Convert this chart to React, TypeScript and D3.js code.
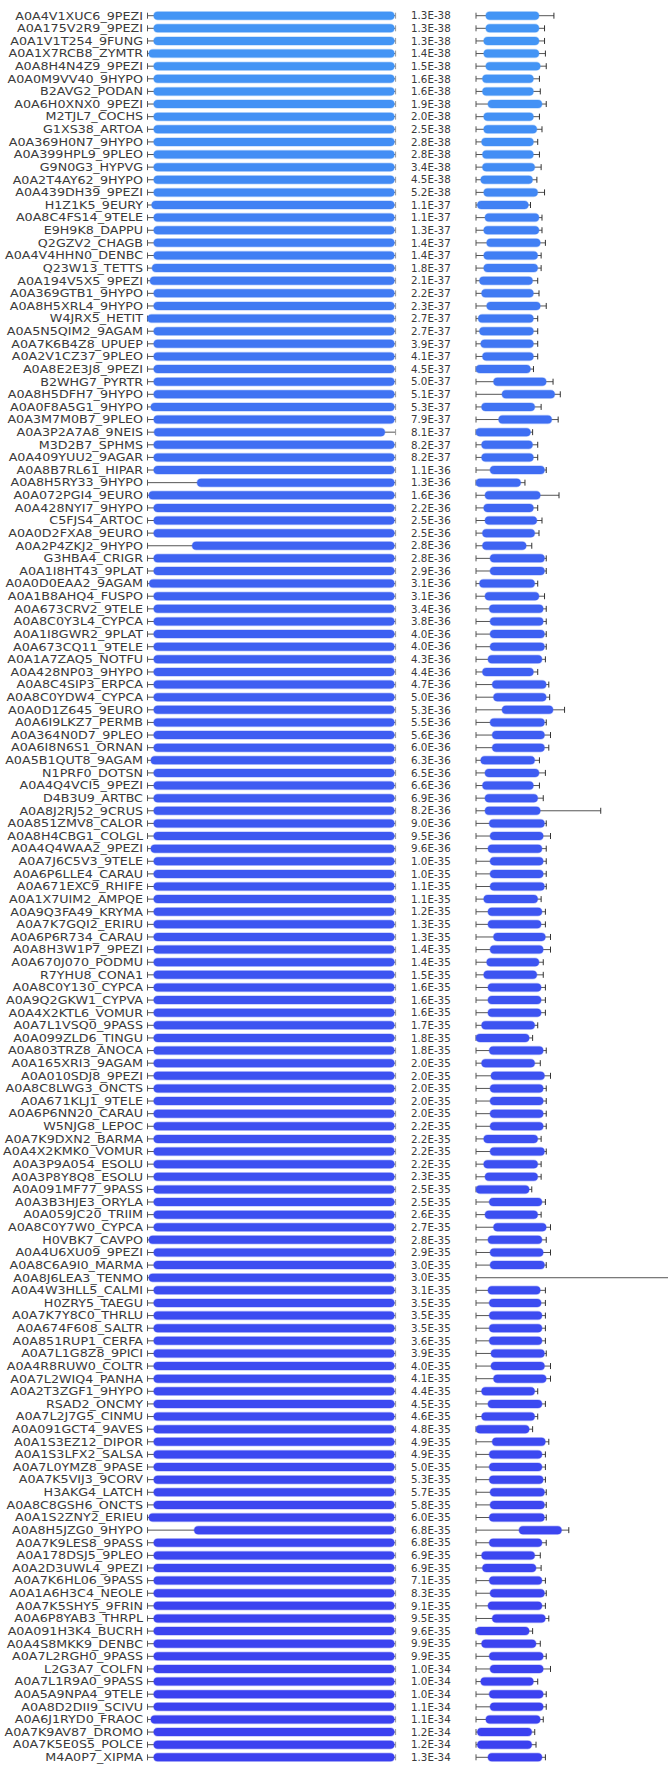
import React, { useRef, useEffect } from 'react';
import * as d3 from 'd3';

// hit names, top to bottom
const labels = [
  'A0A4V1XUC6_9PEZI', 'A0A175V2R9_9PEZI', 'A0A1V1T254_9FUNG', 'A0A1X7RCB8_ZYMTR', 'A0A8H4N4Z9_9PEZI',
  'A0A0M9VV40_9HYPO', 'B2AVG2_PODAN', 'A0A6H0XNX0_9PEZI', 'M2TJL7_COCHS', 'G1XS38_ARTOA',
  'A0A369H0N7_9HYPO', 'A0A399HPL9_9PLEO', 'G9N0G3_HYPVG', 'A0A2T4AY62_9HYPO', 'A0A439DH39_9PEZI',
  'H1Z1K5_9EURY', 'A0A8C4FS14_9TELE', 'E9H9K8_DAPPU', 'Q2GZV2_CHAGB', 'A0A4V4HHN0_DENBC',
  'Q23W13_TETTS', 'A0A194V5X5_9PEZI', 'A0A369GTB1_9HYPO', 'A0A8H5XRL4_9HYPO', 'W4JRX5_HETIT',
  'A0A5N5QIM2_9AGAM', 'A0A7K6B4Z8_UPUEP', 'A0A2V1CZ37_9PLEO', 'A0A8E2E3J8_9PEZI', 'B2WHG7_PYRTR',
  'A0A8H5DFH7_9HYPO', 'A0A0F8A5G1_9HYPO', 'A0A3M7M0B7_9PLEO', 'A0A3P2A7A8_9NEIS', 'M3D2B7_SPHMS',
  'A0A409YUU2_9AGAR', 'A0A8B7RL61_HIPAR', 'A0A8H5RY33_9HYPO', 'A0A072PGI4_9EURO', 'A0A428NYI7_9HYPO',
  'C5FJS4_ARTOC', 'A0A0D2FXA8_9EURO', 'A0A2P4ZKJ2_9HYPO', 'G3HBA4_CRIGR', 'A0A1I8HT43_9PLAT',
  'A0A0D0EAA2_9AGAM', 'A0A1B8AHQ4_FUSPO', 'A0A673CRV2_9TELE', 'A0A8C0Y3L4_CYPCA', 'A0A1I8GWR2_9PLAT',
  'A0A673CQ11_9TELE', 'A0A1A7ZAQ5_NOTFU', 'A0A428NP03_9HYPO', 'A0A8C4SIP3_ERPCA', 'A0A8C0YDW4_CYPCA',
  'A0A0D1Z645_9EURO', 'A0A6I9LKZ7_PERMB', 'A0A364N0D7_9PLEO', 'A0A6I8N6S1_ORNAN', 'A0A5B1QUT8_9AGAM',
  'N1PRF0_DOTSN', 'A0A4Q4VCI5_9PEZI', 'D4B3U9_ARTBC', 'A0A8J2RJ52_9CRUS', 'A0A851ZMV8_CALOR',
  'A0A8H4CBG1_COLGL', 'A0A4Q4WAA2_9PEZI', 'A0A7J6C5V3_9TELE', 'A0A6P6LLE4_CARAU', 'A0A671EXC9_RHIFE',
  'A0A1X7UIM2_AMPQE', 'A0A9Q3FA49_KRYMA', 'A0A7K7GQI2_ERIRU', 'A0A6P6R734_CARAU', 'A0A8H3W1P7_9PEZI',
  'A0A670J070_PODMU', 'R7YHU8_CONA1', 'A0A8C0Y130_CYPCA', 'A0A9Q2GKW1_CYPVA', 'A0A4X2KTL6_VOMUR',
  'A0A7L1VSQ0_9PASS', 'A0A099ZLD6_TINGU', 'A0A803TRZ8_ANOCA', 'A0A165XRI3_9AGAM', 'A0A010SDJ8_9PEZI',
  'A0A8C8LWG3_ONCTS', 'A0A671KLJ1_9TELE', 'A0A6P6NN20_CARAU', 'W5NJG8_LEPOC', 'A0A7K9DXN2_BARMA',
  'A0A4X2KMK0_VOMUR', 'A0A3P9A054_ESOLU', 'A0A3P8Y8Q8_ESOLU', 'A0A091MF77_9PASS', 'A0A3B3HJE3_ORYLA',
  'A0A059JC20_TRIIM', 'A0A8C0Y7W0_CYPCA', 'H0VBK7_CAVPO', 'A0A4U6XU09_9PEZI', 'A0A8C6A9I0_MARMA',
  'A0A8J6LEA3_TENMO', 'A0A4W3HLL5_CALMI', 'H0ZRY5_TAEGU', 'A0A7K7Y8C0_THRLU', 'A0A674F608_SALTR',
  'A0A851RUP1_CERFA', 'A0A7L1G8Z8_9PICI', 'A0A4R8RUW0_COLTR', 'A0A7L2WIQ4_PANHA', 'A0A2T3ZGF1_9HYPO',
  'RSAD2_ONCMY', 'A0A7L2J7G5_CINMU', 'A0A091GCT4_9AVES', 'A0A1S3EZ12_DIPOR', 'A0A1S3LFX2_SALSA',
  'A0A7L0YMZ8_9PASE', 'A0A7K5VIJ3_9CORV', 'H3AKG4_LATCH', 'A0A8C8GSH6_ONCTS', 'A0A1S2ZNY2_ERIEU',
  'A0A8H5JZG0_9HYPO', 'A0A7K9LES8_9PASS', 'A0A178DSJ5_9PLEO', 'A0A2D3UWL4_9PEZI', 'A0A7K6HL06_9PASS',
  'A0A1A6H3C4_NEOLE', 'A0A7K5SHY5_9FRIN', 'A0A6P8YAB3_THRPL', 'A0A091H3K4_BUCRH', 'A0A4S8MKK9_DENBC',
  'A0A7L2RGH0_9PASS', 'L2G3A7_COLFN', 'A0A7L1R9A0_9PASS', 'A0A5A9NPA4_9TELE', 'A0A8D2DII9_SCIVU',
  'A0A6J1RYD0_FRAOC', 'A0A7K9AV87_DROMO', 'A0A7K5E0S5_POLCE', 'M4A0P7_XIPMA',
];

const evalues = [
  '1.3E-38', '1.3E-38', '1.3E-38', '1.4E-38', '1.5E-38', '1.6E-38', '1.6E-38', '1.9E-38', '2.0E-38', '2.5E-38',
  '2.8E-38', '2.8E-38', '3.4E-38', '4.5E-38', '5.2E-38', '1.1E-37', '1.1E-37', '1.3E-37', '1.4E-37', '1.4E-37',
  '1.8E-37', '2.1E-37', '2.2E-37', '2.3E-37', '2.7E-37', '2.7E-37', '3.9E-37', '4.1E-37', '4.5E-37', '5.0E-37',
  '5.1E-37', '5.3E-37', '7.9E-37', '8.1E-37', '8.2E-37', '8.2E-37', '1.1E-36', '1.3E-36', '1.6E-36', '2.2E-36',
  '2.5E-36', '2.5E-36', '2.8E-36', '2.8E-36', '2.9E-36', '3.1E-36', '3.1E-36', '3.4E-36', '3.8E-36', '4.0E-36',
  '4.0E-36', '4.3E-36', '4.4E-36', '4.7E-36', '5.0E-36', '5.3E-36', '5.5E-36', '5.6E-36', '6.0E-36', '6.3E-36',
  '6.5E-36', '6.6E-36', '6.9E-36', '8.2E-36', '9.0E-36', '9.5E-36', '9.6E-36', '1.0E-35', '1.0E-35', '1.1E-35',
  '1.1E-35', '1.2E-35', '1.3E-35', '1.3E-35', '1.4E-35', '1.4E-35', '1.5E-35', '1.6E-35', '1.6E-35', '1.6E-35',
  '1.7E-35', '1.8E-35', '1.8E-35', '2.0E-35', '2.0E-35', '2.0E-35', '2.0E-35', '2.0E-35', '2.2E-35', '2.2E-35',
  '2.2E-35', '2.2E-35', '2.3E-35', '2.5E-35', '2.5E-35', '2.6E-35', '2.7E-35', '2.8E-35', '2.9E-35', '3.0E-35',
  '3.0E-35', '3.1E-35', '3.5E-35', '3.5E-35', '3.5E-35', '3.6E-35', '3.9E-35', '4.0E-35', '4.1E-35', '4.4E-35',
  '4.5E-35', '4.6E-35', '4.8E-35', '4.9E-35', '4.9E-35', '5.0E-35', '5.3E-35', '5.7E-35', '5.8E-35', '6.0E-35',
  '6.8E-35', '6.8E-35', '6.9E-35', '6.9E-35', '7.1E-35', '8.3E-35', '9.1E-35', '9.5E-35', '9.6E-35', '9.9E-35',
  '9.9E-35', '1.0E-34', '1.0E-34', '1.0E-34', '1.1E-34', '1.1E-34', '1.2E-34', '1.2E-34', '1.3E-34',
];

// query side: aligned region start / end (query length 600)
const queryLength = 600;
const queryStart = [
  15, 15, 15, 3, 15, 15, 15, 15, 15, 15,
  15, 15, 15, 15, 15, 10, 15, 15, 15, 15,
  11, 6, 15, 15, 0, 15, 15, 15, 15, 15,
  15, 8, 15, 16, 15, 15, 15, 120, 3, 15,
  15, 15, 108, 15, 15, 4, 15, 15, 15, 15,
  15, 15, 15, 15, 15, 15, 15, 15, 15, 8,
  15, 15, 15, 15, 15, 15, 8, 15, 15, 15,
  15, 15, 15, 15, 15, 15, 15, 15, 15, 15,
  15, 15, 15, 15, 15, 15, 15, 15, 15, 15,
  15, 15, 15, 15, 15, 15, 15, 3, 15, 15,
  3, 15, 15, 15, 15, 15, 15, 15, 15, 15,
  15, 15, 15, 15, 15, 15, 15, 15, 15, 3,
  113, 15, 15, 15, 15, 15, 15, 15, 15, 15,
  15, 15, 15, 15, 15, 8, 15, 15, 15,
];
const queryEnd = [
  597, 597, 597, 597, 597, 597, 597, 597, 597, 597,
  597, 597, 597, 597, 597, 597, 597, 597, 597, 597,
  597, 597, 597, 597, 597, 597, 597, 597, 597, 597,
  597, 597, 597, 574, 597, 597, 597, 597, 597, 597,
  597, 597, 597, 597, 597, 597, 597, 597, 597, 597,
  597, 597, 597, 597, 597, 597, 597, 597, 597, 597,
  597, 597, 597, 597, 597, 597, 597, 597, 597, 597,
  597, 597, 597, 597, 597, 597, 597, 597, 597, 597,
  597, 597, 597, 597, 597, 597, 597, 597, 597, 597,
  597, 597, 597, 597, 597, 597, 597, 597, 597, 597,
  597, 597, 597, 597, 597, 597, 597, 597, 597, 597,
  597, 597, 597, 597, 597, 597, 597, 597, 597, 597,
  597, 597, 597, 597, 597, 597, 597, 597, 597, 597,
  597, 597, 597, 597, 597, 597, 597, 597, 597,
];

// subject side: aligned region start / end, and subject length
const hitStart = [
  23, 23, 18, 18, 23, 15, 15, 28, 18, 18,
  13, 15, 15, 11, 18, 3, 21, 18, 25, 18,
  18, 8, 13, 25, 5, 8, 11, 15, 0, 41,
  61, 13, 53, 0, 13, 13, 33, 0, 21, 18,
  21, 15, 15, 33, 33, 8, 21, 31, 33, 33,
  33, 28, 15, 38, 41, 61, 33, 38, 38, 11,
  21, 15, 21, 21, 31, 33, 28, 33, 33, 33,
  18, 28, 28, 41, 33, 25, 18, 28, 28, 28,
  13, 0, 31, 13, 35, 33, 33, 33, 33, 18,
  33, 18, 21, 0, 31, 21, 41, 28, 33, 33,
  560, 28, 31, 31, 31, 31, 35, 35, 41, 13,
  28, 13, 0, 38, 31, 31, 31, 33, 33, 31,
  101, 31, 13, 15, 31, 33, 28, 38, 0, 13,
  31, 33, 11, 31, 33, 23, 3, 3, 28,
];
const hitEnd = [
  148, 148, 148, 148, 151, 135, 135, 155, 135, 143,
  135, 135, 138, 133, 145, 123, 148, 148, 151, 145,
  145, 133, 135, 151, 135, 135, 135, 135, 128, 165,
  185, 138, 178, 128, 133, 135, 161, 105, 151, 135,
  143, 138, 118, 161, 161, 138, 148, 158, 158, 161,
  161, 155, 135, 165, 165, 181, 161, 161, 161, 138,
  148, 135, 145, 151, 161, 158, 155, 158, 158, 161,
  145, 155, 153, 163, 158, 148, 143, 153, 153, 153,
  138, 125, 158, 138, 161, 158, 158, 158, 158, 145,
  161, 145, 145, 125, 155, 145, 165, 155, 158, 161,
  690, 151, 153, 155, 155, 155, 161, 161, 165, 138,
  155, 138, 125, 163, 155, 155, 158, 161, 161, 161,
  201, 155, 138, 141, 155, 161, 155, 163, 125, 141,
  158, 158, 135, 158, 158, 151, 131, 131, 155,
];
const hitLength = [
  183, 161, 161, 163, 165, 149, 151, 165, 149, 155,
  145, 149, 153, 143, 161, 128, 155, 155, 163, 153,
  153, 145, 148, 165, 145, 145, 145, 145, 135, 181,
  198, 153, 193, 133, 145, 145, 165, 115, 195, 145,
  155, 148, 131, 165, 165, 145, 161, 165, 165, 165,
  165, 163, 145, 171, 173, 208, 165, 175, 171, 149,
  163, 149, 158, 293, 165, 175, 165, 165, 165, 165,
  153, 163, 163, 175, 175, 158, 158, 163, 163, 163,
  145, 133, 165, 151, 175, 165, 165, 165, 165, 153,
  165, 153, 153, 131, 163, 153, 175, 165, 175, 165,
  720, 163, 163, 163, 163, 163, 165, 175, 175, 145,
  163, 145, 133, 171, 163, 163, 163, 165, 165, 165,
  218, 165, 151, 153, 163, 165, 163, 171, 133, 151,
  165, 175, 145, 165, 165, 158, 138, 141, 163,
];

const W = 668;
const H = 1765;

const HitChart: React.FC = () => {
  const svgRef = useRef<SVGSVGElement>(null);

  useEffect(() => {
    if (!svgRef.current) return;
    document.body.style.margin = '0';

    const svg = d3.select(svgRef.current);
    svg.selectAll('*').remove();

    const rows = labels.map((label, i) => ({
      label,
      evalue: evalues[i],
      qs: queryStart[i],
      qe: queryEnd[i],
      hs: hitStart[i],
      he: hitEnd[i],
      hl: hitLength[i],
    }));

    const y = d3.scalePoint<string>().domain(labels).range([15.7, 1757.3]);
    const qx = d3.scaleLinear().domain([0, queryLength]).range([147.5, 395.6]);
    const sx = d3.scaleLinear().domain([0, 451]).range([476, 668]);
    const color = d3.scaleLog<string>()
      .domain([1.3e-38, 1.3e-34])
      .range(['#4395f5', '#3b40f0'])
      .interpolate(d3.interpolateRgb);

    const barH = 8;
    const tickH = 6;
    const font = '"DejaVu Sans", sans-serif';

    const g = svg.selectAll('g.row')
      .data(rows)
      .enter()
      .append('g')
      .attr('class', 'row')
      .attr('transform', d => `translate(0,${y(d.label)})`);

    // label (the source image is stretched sideways, so are the labels)
    g.append('text')
      .attr('transform', 'translate(143,0) scale(1.2,1)')
      .attr('dy', '0.36em')
      .attr('text-anchor', 'end')
      .style('font-family', font)
      .style('font-size', '10.6px')
      .style('fill', '#3a3a3a')
      .text(d => d.label);

    // query whisker
    g.append('line')
      .attr('x1', qx(0)).attr('x2', qx(queryLength))
      .attr('stroke', '#555').attr('stroke-width', 1);
    g.append('line')
      .attr('x1', qx(0)).attr('x2', qx(0))
      .attr('y1', -tickH / 2).attr('y2', tickH / 2)
      .attr('stroke', '#555');
    g.append('line')
      .attr('x1', qx(queryLength)).attr('x2', qx(queryLength))
      .attr('y1', -tickH / 2).attr('y2', tickH / 2)
      .attr('stroke', '#999');

    // query bar
    g.append('rect')
      .attr('x', d => qx(d.qs))
      .attr('y', -barH / 2)
      .attr('width', d => qx(d.qe) - qx(d.qs))
      .attr('height', barH)
      .attr('rx', barH / 2)
      .attr('fill', d => color(+d.evalue))
      .attr('stroke', d => color(+d.evalue))
      .attr('stroke-opacity', 0.3)
      .attr('stroke-width', 1.5);

    // e-value
    g.append('text')
      .attr('x', 411)
      .attr('dy', '0.36em')
      .style('font-family', font)
      .style('font-size', '10.3px')
      .style('fill', '#3a3a3a')
      .text(d => d.evalue);

    // subject whisker
    g.append('line')
      .attr('x1', sx(0)).attr('x2', d => sx(d.hl))
      .attr('stroke', '#555').attr('stroke-width', 1);
    g.append('line')
      .attr('x1', sx(0)).attr('x2', sx(0))
      .attr('y1', -tickH / 2).attr('y2', tickH / 2)
      .attr('stroke', '#555');
    g.append('line')
      .attr('x1', d => sx(d.hl)).attr('x2', d => sx(d.hl))
      .attr('y1', -tickH / 2).attr('y2', tickH / 2)
      .attr('stroke', '#333');

    // subject bar
    g.append('rect')
      .attr('x', d => sx(d.hs))
      .attr('y', -barH / 2)
      .attr('width', d => sx(d.he) - sx(d.hs))
      .attr('height', barH)
      .attr('rx', barH / 2)
      .attr('fill', d => color(+d.evalue))
      .attr('stroke', d => color(+d.evalue))
      .attr('stroke-opacity', 0.3)
      .attr('stroke-width', 1.5);
  }, []);

  return <svg ref={svgRef} width={W} height={H} style={{ display: 'block' }} />;
};

export default function App() {
  return <HitChart />;
}
